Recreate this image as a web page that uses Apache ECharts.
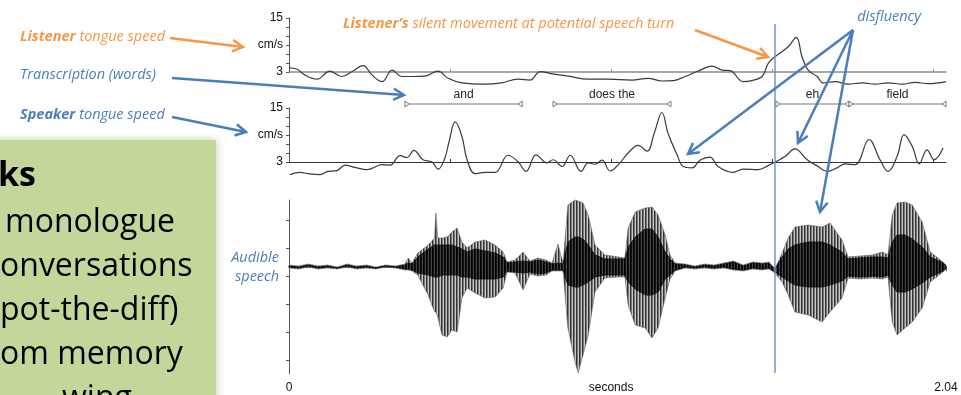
<!DOCTYPE html>
<html>
<head>
<meta charset="utf-8">
<script src="https://cdn.jsdelivr.net/npm/echarts@6/dist/echarts.min.js"></script>
<style>
  html, body { margin: 0; padding: 0; background: #fff; }
  #main { width: 961px; height: 395px; }
</style>
</head>
<body>
<div id="main"></div>
<script>
// listener tongue speed (cm/s) over time (s)
const listenerTime = [0, 0.025, 0.05, 0.087, 0.127, 0.164, 0.196, 0.23, 0.258, 0.289, 0.32, 0.351, 0.382, 0.422, 0.463, 0.494, 0.537, 0.609, 0.66, 0.711, 0.748, 0.78, 0.817, 0.867, 0.929, 0.991, 1.065, 1.115, 1.158, 1.193, 1.23, 1.267, 1.314, 1.345, 1.37, 1.41, 1.438, 1.469, 1.488, 1.509, 1.55, 1.575, 1.593, 1.612, 1.64, 1.658, 1.696, 1.736, 1.78, 1.82, 1.86, 1.904, 1.944, 1.984, 2.04]
const listenerSpeed = [3.9, 3.6, 2.3, 1.4, 3.2, 2.0, 3.1, 4.4, 2.3, 0.85, 3.4, 2.0, 2.0, 2.1, 3.2, 1.6, 0.6, 0.3, 0.6, 1.4, 1.2, 3.1, 2.6, 2.1, 1.4, 1.4, 1.2, 1.6, 1.0, 1.1, 2.0, 3.1, 4.3, 3.4, 3.3, 0.85, 1.1, 2.0, 4.9, 6.4, 8.6, 10.7, 6.4, 3.4, 2.0, 0.6, 0.85, 0.3, 0.6, 0.3, 0.6, 0.3, 0.7, 0.4, 0.85]

// speaker tongue speed (cm/s)
const speakerTime = [0.003, 0.034, 0.059, 0.096, 0.121, 0.149, 0.174, 0.205, 0.242, 0.289, 0.314, 0.345, 0.366, 0.388, 0.416, 0.444, 0.463, 0.484, 0.497, 0.516, 0.537, 0.553, 0.578, 0.609, 0.64, 0.68, 0.711, 0.736, 0.767, 0.801, 0.82, 0.848, 0.873, 0.907, 0.929, 0.95, 0.972, 0.997, 1.025, 1.053, 1.084, 1.112, 1.134, 1.158, 1.177, 1.205, 1.224, 1.252, 1.276, 1.307, 1.332, 1.379, 1.41, 1.457, 1.488, 1.512, 1.54, 1.571, 1.609, 1.643, 1.671, 1.702, 1.727, 1.758, 1.801, 1.835, 1.86, 1.888, 1.91, 1.935, 1.957, 1.981, 2.003, 2.031]
const speakerSpeed = [0.2, 0.7, 0.4, 0.2, 0.9, 1.1, 2.3, 1.8, 1.3, 2.4, 2.3, 4.4, 4.0, 5.6, 3.5, 3.0, 1.4, 3.9, 7.5, 11.9, 8.7, 3.5, 0.4, 0.7, 0.7, 4.5, 3.1, 0.9, 4.6, 2.8, 3.5, 2.0, 4.5, 0.9, 2.8, 2.5, 3.4, 1.0, 2.6, 5.0, 6.7, 5.4, 9.4, 14.0, 9.4, 4.6, 2.0, 1.7, 3.4, 4.1, 2.0, 0.7, 1.4, 1.3, 2.2, 3.1, 4.2, 5.9, 3.5, 2.0, 0.9, 1.7, 2.6, 2.4, 8.0, 3.5, 0.9, 4.2, 9.1, 6.5, 2.6, 5.7, 3.5, 6.1]

// transcription
const words = ['and', 'does the', 'eh', 'field']
const wordStart = [0.36, 0.82, 1.512, 1.739]
const wordEnd = [0.724, 1.186, 1.739, 2.04]

// audio waveform envelope (outer and dense core), arbitrary units
const waveTime = [0, 0.03, 0.06, 0.09, 0.12, 0.15, 0.18, 0.21, 0.24, 0.27, 0.30, 0.33,
  0.36, 0.37, 0.382, 0.40, 0.432, 0.452, 0.456, 0.462, 0.475, 0.491, 0.506, 0.522, 0.537, 0.553, 0.578, 0.609, 0.64, 0.665, 0.677,
  0.702, 0.727, 0.748, 0.773, 0.798, 0.817, 0.835, 0.851,
  0.866, 0.888, 0.898, 0.913, 0.929, 0.95, 0.981,
  1.022, 1.043, 1.053, 1.075, 1.106, 1.127, 1.146, 1.168, 1.183, 1.199,
  1.23, 1.26, 1.29, 1.32, 1.35, 1.38, 1.41, 1.44, 1.47, 1.49,
  1.509, 1.531, 1.55, 1.571, 1.612, 1.655, 1.68, 1.717, 1.736, 1.773, 1.811, 1.842, 1.86,
  1.873, 1.888, 1.913, 1.935, 1.966, 1.991, 2.031, 2.04]
const waveHi = [2, 1, 3, 1, 2, 0, 3, 1, 2, 0, 2, 1,
  3, 9, 4, 14, 22, 29, 54, 29, 29, 30, 35, 39, 25, 19, 25, 27, 22, 15, 5,
  7, 15, 6, 9, 7, 4, 23, 4,
  62, 67, 66, 64, 52, 22, 12,
  10, 9, 39, 55, 59, 60, 52, 32, 12, 4,
  3, 1, 3, 2, 4, 6, 2, 5, 4, 5,
  -2, 14, 29, 40, 42, 40, 44, 27, 10, 11, 12, 15, 12,
  52, 64, 65, 62, 45, 15, 5, 2]
const waveLo = [-1, -2, 0, -2, -1, -2, 0, -2, -1, -2, 0, -1,
  -3, -3, -4, -8, -28, -45, -45, -50, -68, -70, -63, -65, -31, -21, -26, -31, -30, -21, -5,
  -6, -23, -7, -9, -8, -4, -4, -4,
  -61, -95, -106, -88, -68, -25, -11,
  -10, -10, -38, -58, -61, -71, -61, -31, -12, -4,
  -1, -2, -1, -2, -1, -3, -4, -2, -3, -2,
  -6, -15, -28, -45, -48, -55, -45, -31, -11, -12, -11, -12, -10,
  -55, -68, -61, -55, -41, -15, -5, -2]
const coreHi = [1, 0, 2, 0, 1, -1, 2, 0, 1, -1, 1, 0,
  2, 4, 3, 10, 18, 22, 22, 22, 22, 22, 22, 20, 18, 15, 18, 16, 14, 10, 4,
  5, 6, 5, 7, 5, 3, 4, 3,
  25, 30, 30, 28, 22, 12, 8,
  8, 8, 20, 30, 38, 38, 30, 15, 8, 3,
  2, 0, 2, 1, 3, 5, 1, 4, 3, 4,
  -2, 10, 18, 22, 25, 25, 22, 15, 8, 9, 10, 10, 9,
  25, 32, 32, 28, 20, 10, 4, 1]
const coreLo = [0, -1, 1, -1, 0, -1, 1, -1, 0, -1, 1, 0,
  -2, -2, -3, -6, -8, -10, -10, -10, -8, -8, -8, -8, -10, -10, -12, -12, -12, -10, -4,
  -5, -6, -5, -7, -6, -3, -3, -3,
  -18, -20, -20, -18, -15, -10, -8,
  -8, -8, -15, -22, -28, -28, -25, -12, -8, -3,
  0, -1, 0, -1, 0, -2, -3, -1, -2, -1,
  -5, -10, -14, -18, -20, -20, -18, -14, -9, -10, -9, -10, -8,
  -18, -25, -25, -22, -16, -10, -4, -1]

const turnTime = 1.509  // potential speech turn (vertical line)

const speedTicks = [3, 5, 7, 9, 11, 13, 15]
const speedLabels = [3, 9, 15]
const timeTicks = [0.5, 1, 1.5, 2]
const timeLabels = [0, 1, 2.04]
const waveTicks = [-93, -65, -37, -9, 19, 47]

const orange = '#f79646'
const blue = '#4a7ebb'
const axisFont = '"Liberation Sans", Arial, sans-serif'
const noteFont = '"Open Sans", sans-serif'

// striped fills to look like dense waveform strokes
function stripes(cols) {
  const c = document.createElement('canvas')
  c.width = cols.length
  c.height = 4
  const g = c.getContext('2d')
  cols.forEach((col, i) => {
    g.fillStyle = col
    g.fillRect(i, 0, 1, 4)
  })
  return c
}
const outerStripe = stripes(['#333', '#777', '#c8c8c8'])
const coreStripe = stripes(['#000', '#111', '#444'])

const chart = echarts.init(document.getElementById('main'))

const speedY = (idx) => ({
  type: 'value', gridIndex: idx, min: 3, max: 15,
  axisLine: {show: true, lineStyle: {color: '#555', width: 1}},
  axisTick: {show: true, customValues: speedTicks, length: 3, lineStyle: {color: '#555'}},
  axisLabel: {
    customValues: speedLabels, margin: 6, color: '#111', fontSize: 12, fontFamily: axisFont,
    formatter: v => v === 9 ? 'cm/s' : String(v)
  },
  splitLine: {show: false}
})

const timeX = (idx, color, width) => ({
  type: 'value', gridIndex: idx, min: 0, max: 2.04,
  axisLine: {show: true, onZero: false, lineStyle: {color: color, width: width}},
  axisTick: {show: true, inside: true, customValues: timeTicks, length: 3, lineStyle: {color: color}},
  axisLabel: {show: false},
  splitLine: {show: false}
})

const option = {
  animation: false,
  backgroundColor: '#fff',
  grid: [
    {left: 289, width: 657, top: 18, height: 54},
    {left: 289, width: 657, top: 94, height: 10},
    {left: 289, width: 657, top: 108, height: 54},
    {left: 289, width: 657, top: 200, height: 174}
  ],
  xAxis: [
    timeX(0, '#8c8c8c', 1.5),
    {type: 'value', gridIndex: 1, min: 0, max: 2.04, show: false},
    timeX(2, '#333', 1),
    {
      type: 'value', gridIndex: 3, min: 0, max: 2.04,
      axisLine: {show: true, lineStyle: {color: '#555'}},
      axisTick: {show: true, customValues: [0, 0.5, 1, 1.5, 2, 2.04], length: 4, lineStyle: {color: '#555'}},
      axisLabel: {
        customValues: timeLabels, margin: 8, color: '#111', fontSize: 12, fontFamily: axisFont,
        formatter: v => v === 0 ? '0' : (v === 1 ? 'seconds' : '2.04')
      },
      splitLine: {show: false}
    }
  ],
  yAxis: [
    speedY(0),
    {type: 'value', gridIndex: 1, min: 0, max: 1, show: false},
    speedY(2),
    {
      type: 'value', gridIndex: 3, min: -107, max: 67,
      axisLine: {show: true, lineStyle: {color: '#555'}},
      axisTick: {show: true, customValues: waveTicks, length: 3, lineStyle: {color: '#555'}},
      axisLabel: {show: false},
      splitLine: {show: false}
    }
  ],
  series: [
    {
      name: 'listener', type: 'line', xAxisIndex: 0, yAxisIndex: 0,
      data: listenerTime.map((t, i) => [t, listenerSpeed[i]]),
      smooth: 0.4, showSymbol: false, clip: false, z: 3,
      lineStyle: {color: '#3a3a3a', width: 1.2}
    },
    {
      name: 'words', type: 'custom', xAxisIndex: 1, yAxisIndex: 1,
      data: words.map((w, i) => [wordStart[i], wordEnd[i]]),
      renderItem: (params, api) => {
        const s = api.coord([api.value(0), 0])
        const e = api.coord([api.value(1), 0])
        const top = api.coord([api.value(0), 1])
        const y = s[1]
        return {
          type: 'group', children: [
            {type: 'line', shape: {x1: s[0], y1: y, x2: e[0], y2: y}, style: {stroke: '#777', lineWidth: 1}},
            {type: 'polygon', shape: {points: [[s[0], y - 3], [s[0] + 4, y], [s[0], y + 3]]}, style: {fill: '#fff', stroke: '#777', lineWidth: 1}},
            {type: 'polygon', shape: {points: [[e[0], y - 3], [e[0] - 4, y], [e[0], y + 3]]}, style: {fill: '#fff', stroke: '#777', lineWidth: 1}},
            {
              type: 'text', x: (s[0] + e[0]) / 2, y: top[1] + 1,
              style: {text: words[params.dataIndex], align: 'center', verticalAlign: 'middle', fill: '#222', font: '12px ' + axisFont}
            }
          ]
        }
      }
    },
    {
      name: 'speaker', type: 'line', xAxisIndex: 2, yAxisIndex: 2,
      data: speakerTime.map((t, i) => [t, speakerSpeed[i]]),
      smooth: 0.4, showSymbol: false, clip: false, z: 3,
      lineStyle: {color: '#3a3a3a', width: 1.2}
    },
    {
      name: 'audio', type: 'custom', xAxisIndex: 3, yAxisIndex: 3,
      data: [[0, 0]],
      renderItem: (params, api) => {
        const up = waveTime.map((t, i) => api.coord([t, waveHi[i]]))
        const dn = waveTime.map((t, i) => api.coord([t, waveLo[i]])).reverse()
        const cu = waveTime.map((t, i) => api.coord([t, coreHi[i]]))
        const cd = waveTime.map((t, i) => api.coord([t, coreLo[i]])).reverse()
        return {
          type: 'group', children: [
            {type: 'polygon', shape: {points: up.concat(dn)}, style: {fill: {image: outerStripe, repeat: 'repeat'}, stroke: '#666', lineWidth: 0.6}},
            {type: 'polygon', shape: {points: cu.concat(cd)}, style: {fill: {image: coreStripe, repeat: 'repeat'}, stroke: '#111', lineWidth: 0.9}}
          ]
        }
      }
    }
  ]
}

chart.setOption(option)

function arrow(x1, y1, x2, y2, color, w) {
  const a = Math.atan2(y2 - y1, x2 - x1)
  const h = 12, s = 0.5
  return {
    type: 'group', children: [
      {type: 'line', z: 100, shape: {x1, y1, x2, y2}, style: {stroke: color, lineWidth: w}},
      {
        type: 'polyline', z: 100,
        shape: {points: [[x2 - h * Math.cos(a - s), y2 - h * Math.sin(a - s)], [x2, y2], [x2 - h * Math.cos(a + s), y2 - h * Math.sin(a + s)]]},
        style: {stroke: color, lineWidth: w, fill: null}
      }
    ]
  }
}

function note(x, y, text, color, align) {
  return {
    type: 'text', x: x, y: y, z: 100,
    style: {
      text: text, fill: color, font: 'italic 14.5px ' + noteFont,
      align: align || 'left', textAlign: align || 'left',
      verticalAlign: 'middle', textVerticalAlign: 'middle',
      rich: {b: {fontWeight: 'bold', fontStyle: 'italic', fontSize: 14.5, fontFamily: noteFont, fill: color}}
    }
  }
}

function taskLine(x, y, text, bold) {
  return {
    type: 'text', x: x, y: y, z: 20,
    style: {
      text: text, fill: '#000', font: (bold ? 'bold 34px ' : '32px ') + noteFont,
      align: 'left', textAlign: 'left', verticalAlign: 'middle', textVerticalAlign: 'middle'
    }
  }
}

const turnX = chart.convertToPixel({xAxisIndex: 3}, turnTime)

chart.setOption({
  graphic: [
    {
      type: 'rect', z: 10, shape: {x: -20, y: 140, width: 236, height: 280},
      style: {fill: '#c4d79b', shadowBlur: 8, shadowColor: 'rgba(150,175,100,0.6)'}
    },
    taskLine(-2, 176, 'ks', true),
    taskLine(5, 223, 'monologue'),
    taskLine(0, 267, 'onversations'),
    taskLine(0, 311, 'pot-the-diff)'),
    taskLine(0, 355, 'om memory'),
    taskLine(62, 399, 'wing'),

    {type: 'line', z: 50, shape: {x1: turnX, y1: 24, x2: turnX, y2: 373}, style: {stroke: '#6f97d0', lineWidth: 1.5}},

    note(20, 37, '{b|Listener} tongue speed', orange),
    arrow(170, 38, 243, 47, orange, 2.5),
    note(20, 75, 'Transcription (words)', blue),
    arrow(172, 78, 404, 95, blue, 2.5),
    note(20, 115, '{b|Speaker} tongue speed', blue),
    arrow(172, 117, 246, 132, blue, 2.5),
    note(343, 24, '{b|Listener\u2019s} silent movement at potential speech turn', orange),
    arrow(695, 30, 768, 57, orange, 2.5),
    note(889, 17, 'disfluency', blue, 'center'),
    arrow(853, 30, 688, 154, blue, 2.5),
    arrow(853, 30, 798, 143, blue, 2.5),
    arrow(853, 30, 820, 212, blue, 2.5),
    note(279, 258, 'Audible', blue, 'right'),
    note(279, 277, 'speech', blue, 'right')
  ]
})
</script>
</body>
</html>
